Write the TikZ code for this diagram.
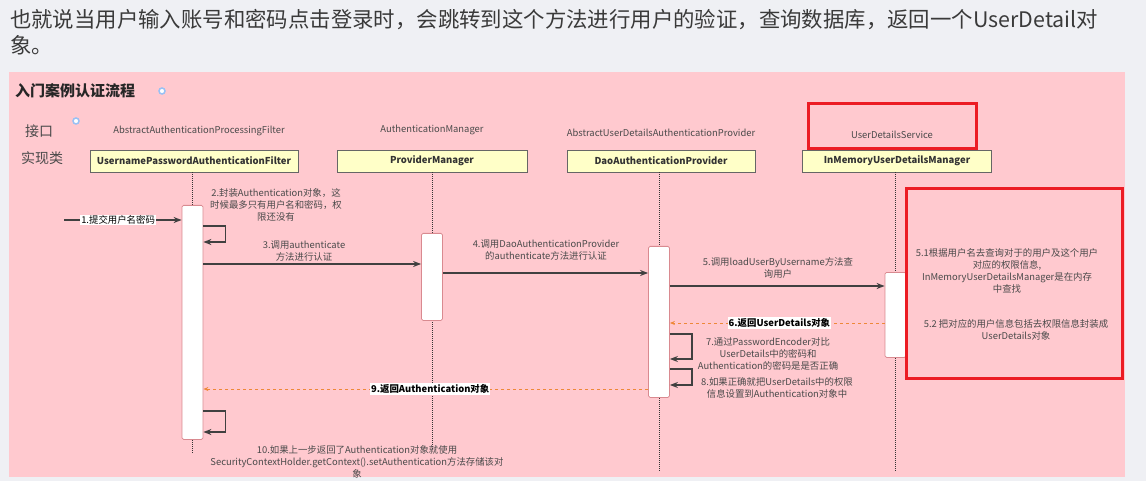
\documentclass[tikz,border=0pt]{standalone}
\usepackage{fontspec}
\setmainfont{Noto Sans CJK SC}
\usetikzlibrary{arrows.meta}
\definecolor{pagegray}{HTML}{EFF0F4}
\definecolor{notepink}{HTML}{FFC9CF}
\definecolor{clsyellow}{HTML}{FFFFC8}
\definecolor{txtgray}{HTML}{4A4A4A}
\definecolor{hdrgray}{HTML}{3A3A3A}
\definecolor{actred}{HTML}{D98A90}
\definecolor{retorange}{HTML}{EE8838}
\definecolor{markred}{HTML}{EC1C24}
\definecolor{dotblue}{HTML}{6EA6F0}

\begin{document}
\begin{tikzpicture}[x=1pt, y=-1pt,
  clsbox/.style={draw=gray!80!black, fill=clsyellow, line width=0.8pt, inner sep=0pt,
    minimum height=22pt, font=\fontsize{9.5}{11}\selectfont\bfseries, text=black!80},
  actbox/.style={draw=actred, fill=white, line width=0.8pt, rounded corners=1.5pt,
    inner sep=0pt, minimum width=21pt, anchor=north},
  lifeline/.style={densely dotted, line width=1pt, black!80},
  msg/.style={line width=1.3pt, black!75, -{Stealth[length=8pt, width=6pt]}},
  retmsg/.style={dashed, line width=0.8pt, retorange, -{Stealth[length=5pt, width=4pt]}},
  lbl/.style={font=\fontsize{9.4}{12}\selectfont, text=txtgray, align=center, inner sep=1pt},
  tagbox/.style={lbl, fill=white, text=black, inner sep=1pt},
  ifname/.style={font=\fontsize{9.4}{11}\selectfont, text=txtgray},
  markbox/.style={draw=markred, line width=3pt},
  bluedot/.style={circle, draw=dotblue!70, fill=white, line width=1.5pt, inner sep=0pt, minimum size=6pt}
]
  \useasboundingbox (0,0) rectangle (1146,481);
  \fill[pagegray] (0,0) rectangle (1146,481);
  \fill[notepink] (9,72) rectangle (1125,477);

  % header text above the figure
  \node[anchor=north west, align=left, inner sep=0pt, text=hdrgray,
    font=\fontsize{21.4}{26}\selectfont] (intro) at (10,9)
    {也就说当用户输入账号和密码点击登录时，会跳转到这个方法进行用户的验证，查询数据库，返回一个UserDetail对\\象。};

  \node[anchor=west, inner sep=0pt, font=\fontsize{15}{17}\selectfont\bfseries, text=black!85] (title) at (15,91) {入门案例认证流程};
  \node[bluedot] (dotA) at (162,91) {};
  \node[anchor=west, inner sep=0pt, font=\fontsize{14}{16}\selectfont, text=txtgray] (rowif) at (25,131) {接口};
  \node[anchor=west, inner sep=0pt, font=\fontsize{14}{16}\selectfont, text=txtgray] (rowimpl) at (21,158) {实现类};
  \node[bluedot] (dotB) at (76,121) {};

  % interfaces
  \node[ifname] (ifA) at (199,131) {AbstractAuthenticationProcessingFilter};
  \node[ifname] (ifB) at (432,130) {AuthenticationManager};
  \node[ifname] (ifC) at (661,133) {AbstractUserDetailsAuthenticationProvider};
  \node[ifname] (ifD) at (892,135) {UserDetailsService};
  \draw[markbox] (808,104) rectangle (976,149);

  % implementations
  \node[clsbox, minimum width=208pt] (filter) at (194,161) {UsernamePasswordAuthenticationFilter};
  \node[clsbox, minimum width=190pt] (manager) at (432,161) {ProviderManager};
  \node[clsbox, minimum width=188pt] (provider) at (661,161) {DaoAuthenticationProvider};
  \node[clsbox, minimum width=189pt] (udsvc) at (897,161) {InMemoryUserDetailsManager};

  % lifelines
  \draw[lifeline] (filter.south -| 192.5,0) -- (192.5,453);
  \draw[lifeline] (manager.south) -- (432,450);
  \draw[lifeline] (provider.south -| 659,0) -- (659,472);
  \draw[lifeline] (udsvc.south -| 895.5,0) -- (895.5,472);

  % activations
  \node[actbox, minimum height=234pt] (act1) at (192.5,205) {};
  \node[actbox, minimum height=87pt] (act2) at (432,233) {};
  \node[actbox, minimum height=151pt] (act3) at (659,246) {};
  \node[actbox, minimum height=85pt] (act4) at (895.5,272) {};

  % messages
  \coordinate (user) at (64,220);
  \draw[msg] (user) -- (act1.west |- 0,220)
    node[tagbox, pos=0.46] (m1) {1.提交用户名密码};

  \draw[msg] (act1.east |- 0,226) -- ++(22,0) -- ++(0,16) -- (act1.east |- 0,242);
  \node[lbl] (m2) at (276,205) {2.封装Authentication对象，这\\时候最多只有用户名和密码，权\\限还没有};

  \draw[msg] (act1.east |- 0,264) -- (act2.west |- 0,264);
  \node[lbl] (m3) at (304,251) {3.调用authenticate\\方法进行认证};

  \draw[msg] (act2.east |- 0,273) -- (act3.west |- 0,273);
  \node[lbl] (m4) at (546,250) {4.调用DaoAuthenticationProvider\\的authenticate方法进行认证};

  \draw[msg] (act3.east |- 0,286) -- (act4.west |- 0,286);
  \node[lbl] (m5) at (778,268) {5.调用loadUserByUsername方法查\\询用户};

  \draw[retmsg] (act4.west |- 0,323) -- (act3.east |- 0,323)
    node[tagbox, pos=0.49] (m6) {\bfseries 6.返回UserDetails对象};

  \draw[msg] (act3.east |- 0,334) -- ++(22,0) -- ++(0,25) -- (act3.east |- 0,359);
  \node[lbl] (m7) at (768,354) {7.通过PasswordEncoder对比\\UserDetails中的密码和\\Authentication的密码是是否正确};

  \draw[msg] (act3.east |- 0,369) -- ++(22,0) -- ++(0,16) -- (act3.east |- 0,385);
  \node[lbl] (m8) at (777,388) {8.如果正确就把UserDetails中的权限\\信息设置到Authentication对象中};

  \draw[retmsg] (act3.west |- 0,389) -- (act1.east |- 0,389)
    node[tagbox, pos=0.49] (m9) {\bfseries 9.返回Authentication对象};

  \draw[msg] (act1.east |- 0,411) -- ++(22,0) -- ++(0,21) -- (act1.east |- 0,432);
  \node[lbl] (m10) at (357,462) {10.如果上一步返回了Authentication对象就使用\\SecurityContextHolder.getContext().setAuthentication方法存储该对\\象};

  % notes on the user details service
  \draw[markbox] (906,189) rectangle (1122,378);
  \node[lbl] (n51) at (1007,271) {5.1根据用户名去查询对于的用户及这个用户\\对应的权限信息,\\InMemoryUserDetailsManager是在内存\\中查找};
  \node[lbl] (n52) at (1016,330) {5.2 把对应的用户信息包括去权限信息封装成\\UserDetails对象};
\end{tikzpicture}
\end{document}
